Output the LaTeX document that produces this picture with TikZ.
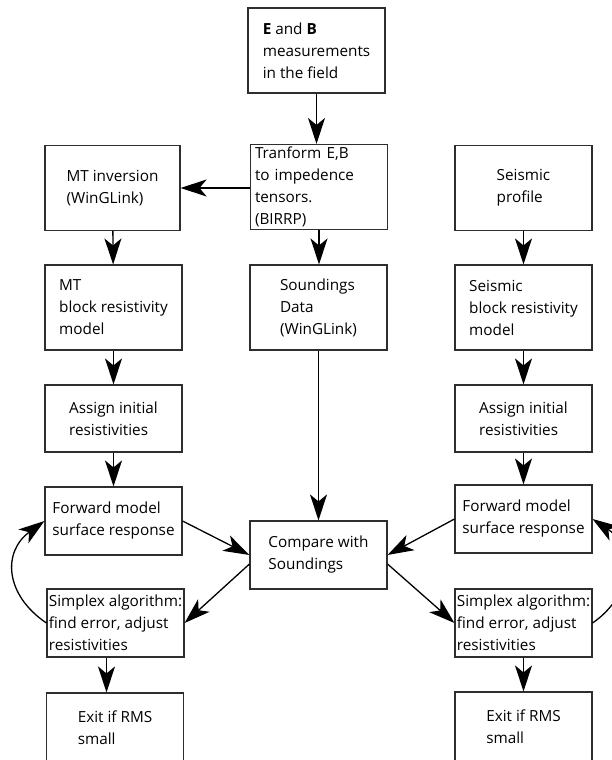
\documentclass[tikz,border=0pt]{standalone}
\usepackage{fontspec}
\setmainfont{Open Sans}
\usetikzlibrary{arrows.meta}
\definecolor{boxline}{HTML}{2E2E2E}

\begin{document}
\begin{tikzpicture}[x=1pt, y=-1pt, >={Stealth[length=26pt, width=17pt, inset=7pt]}, line width=1.3pt,
  box/.style={draw=boxline, line width=1.1pt, minimum width=137pt, minimum height=85pt,
    inner sep=0pt, align=left, font=\fontsize{15.3}{22}\selectfont},
  lowbox/.style={box, minimum height=68pt}]

% Page
\useasboundingbox (0,0) rectangle (612,760);
\clip (0,0) rectangle (612,760);

% Centre column
\node[box] (meas) at (316.5,50.5) {\textbf{E} and \textbf{B}\\measurements\\in the field};
\node[box, text width=128pt] (tensor) at (319,187) {Tranform E,B\\to impedence\\tensors.\\(BIRRP)};
\node[box] (sound) at (318.5,307.5) {Soundings\\Data\\(WinGLink)};
\node[lowbox] (cmp) at (318.5,555) {Compare with\\Soundings};

% MT column
\node[box, minimum width=135pt] (mtinv) at (112.5,188) {MT inversion\\(WinGLink)};
\node[box] (mtmodel) at (113.5,307.5) {MT\\block resistivity\\model};
\node[lowbox, minimum height=67pt] (mtassign) at (113.5,418.5) {Assign initial\\resistivities};
\node[lowbox] (mtfwd) at (113.5,521) {Forward model\\surface response};
\node[lowbox] (mtsimplex) at (115.5,623) {Simplex algorithm:\\find error, adjust\\resistivities};
\node[lowbox, minimum height=70pt] (mtexit) at (115,728) {Exit if RMS\\small};

% Seismic column
\node[box] (seis) at (523.5,188) {Seismic\\profile};
\node[box] (seismodel) at (523.5,307.5) {Seismic\\block resistivity\\model};
\node[lowbox, minimum height=67pt] (seisassign) at (523.5,418.5) {Assign initial\\resistivities};
\node[lowbox] (seisfwd) at (523.5,519) {Forward model\\surface response};
\node[lowbox] (seissimplex) at (523.5,623) {Simplex algorithm:\\find error, adjust\\resistivities};
\node[lowbox, minimum height=70pt] (seisexit) at (523.5,727) {Exit if RMS\\small};

% Centre arrows
\draw[->] (meas.south) -- (meas.south |- tensor.north);
\draw[->] (tensor.west |- mtinv) -- (mtinv);
\draw[->] (tensor.south) -- (tensor.south |- sound.north);
\draw[->] (sound) -- (cmp);

% MT chain
\draw[->] (mtinv) -- (mtmodel);
\draw[->] (mtmodel) -- (mtassign);
\draw[->] (mtassign) -- (mtfwd);
\draw[->] (mtfwd.east) -- (cmp.west);
\draw[->] ([yshift=-9pt]cmp.west) -- (mtsimplex.east);
\draw[->] ([xshift=-9pt]mtsimplex.south) -- ([xshift=-9pt]mtsimplex.south |- mtexit.north);
\draw[->] (mtsimplex.west) .. controls (5,595) and (2,552) .. (mtfwd.west);

% Seismic chain
\draw[->] (seis) -- (seismodel);
\draw[->] (seismodel) -- (seisassign);
\draw[->] (seisassign) -- (seisfwd);
\draw[->] (seisfwd.west) -- (cmp.east);
\draw[->] ([yshift=-9pt]cmp.east) -- (seissimplex.west);
\draw[->] (seissimplex) -- (seisexit);
\draw[->] (seissimplex.east) .. controls (633,595) and (636,548) .. (seisfwd.east);

\end{tikzpicture}
\end{document}
